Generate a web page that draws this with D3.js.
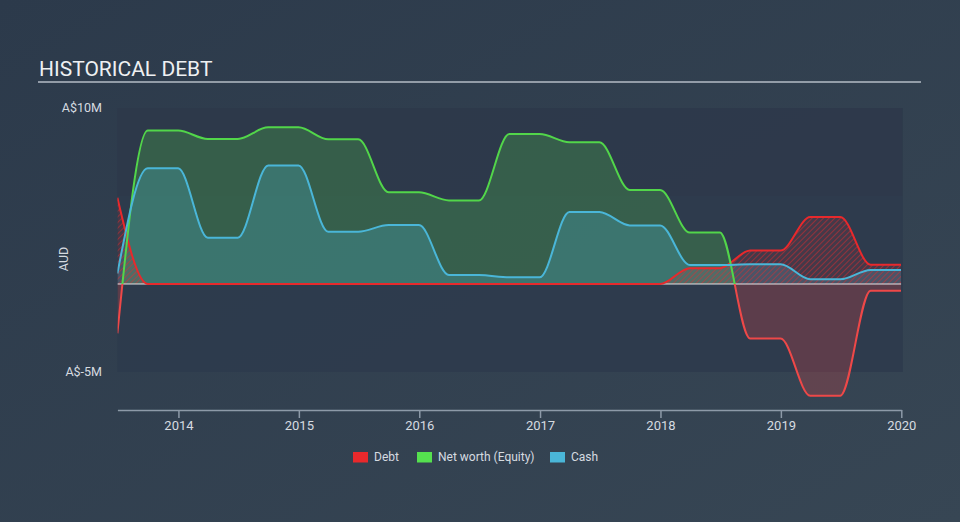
<!DOCTYPE html>
<html>
<head>
<meta charset="utf-8">
<script src="https://cdn.jsdelivr.net/npm/d3@7"></script>
<style>
html,body{margin:0;padding:0;}
body{width:960px;height:522px;overflow:hidden;background:#313f4f;font-family:Roboto,"Noto Sans",sans-serif;}
</style>
</head>
<body>
<svg id="chart" width="960" height="522"></svg>
<script>
// ---- data (A$ millions) ----
const dates = ["2013-06-30","2013-09-30","2013-12-31","2014-03-31","2014-06-30","2014-09-30","2014-12-31",
  "2015-03-31","2015-06-30","2015-09-30","2015-12-31","2016-03-31","2016-06-30","2016-09-30","2016-12-31",
  "2017-03-31","2017-06-30","2017-09-30","2017-12-31","2018-03-31","2018-06-30","2018-09-30","2018-12-31",
  "2019-03-31","2019-06-30","2019-09-30","2019-12-31"];
const debt   = [4.9,0,0,0,0,0,0,0,0,0,0,0,0,0,0,0,0,0,0,0.9,0.9,1.9,1.9,3.8,3.8,1.1,1.1];
const equity = [-2.8,8.72,8.72,8.24,8.24,8.9,8.9,8.22,8.22,5.21,5.21,4.75,4.75,8.52,8.52,8.05,8.05,5.34,5.34,2.92,2.92,-3.1,-3.1,-6.35,-6.35,-0.38,-0.38];
const cash   = [0.6,6.57,6.57,2.63,2.63,6.74,6.74,2.97,2.97,3.35,3.35,0.51,0.51,0.38,0.38,4.09,4.09,3.33,3.33,1.08,1.08,1.12,1.12,0.27,0.27,0.8,0.8];
const yTickValues = [10, -5];
const yTickLabels = ["A$10M", "A$-5M"];
const legendLabels = ["Debt", "Net worth (Equity)", "Cash"];
const title = "HISTORICAL DEBT";
const yAxisTitle = "AUD";

const parse = d3.timeParse("%Y-%m-%d");
const rows = dates.map((d,i)=>({date:parse(d), debt:debt[i], equity:equity[i], cash:cash[i]}));

const C = {debt:"#e8292c", neg:"#ee4848", equity:"#52d64a", cash:"#4ab6d8", text:"#d6dbe0"};

const svg = d3.select("#chart");
const defs = svg.append("defs");

// background gradient
const bg = defs.append("linearGradient").attr("id","bg").attr("x1","0").attr("y1","0").attr("x2","1").attr("y2","1");
bg.append("stop").attr("offset","0").attr("stop-color","#2c3a4b");
bg.append("stop").attr("offset","1").attr("stop-color","#374654");
svg.append("rect").attr("width",960).attr("height",522).attr("fill","url(#bg)");

const x = d3.scaleTime().domain([parse("2013-06-30"), parse("2020-01-01")]).range([117.4, 901.3]);
const y = d3.scaleLinear().domain([-5, 10]).range([372, 108]);
const left = x.range()[0], right = x.range()[1];

// plot bands
svg.append("rect").attr("x",left).attr("y",y(10)).attr("width",right-left+1.5).attr("height",y(5)-y(10)).attr("fill","#2d394a").attr("opacity",0.9);
svg.append("rect").attr("x",left).attr("y",y(5)).attr("width",right-left+1.5).attr("height",y(-5)-y(5)).attr("fill","#2e3b4c").attr("opacity",0.9);

// clips
defs.append("clipPath").attr("id","plot").append("rect").attr("x",left).attr("y",0).attr("width",right-left).attr("height",522);
defs.append("clipPath").attr("id","above").append("rect").attr("x",left).attr("y",0).attr("width",right-left).attr("height",y(0));
defs.append("clipPath").attr("id","below").append("rect").attr("x",left).attr("y",y(0)).attr("width",right-left).attr("height",522-y(0));

// hatch pattern
const pat = defs.append("pattern").attr("id","hatch").attr("patternUnits","userSpaceOnUse")
  .attr("width",4).attr("height",4).attr("patternTransform","rotate(45)");
pat.append("rect").attr("width",4).attr("height",4).attr("fill","rgba(232,41,44,0.12)");
pat.append("line").attr("x1",0).attr("y1",0).attr("x2",0).attr("y2",4).attr("stroke","rgba(232,41,44,0.6)").attr("stroke-width",1.6);

const g = svg.append("g").attr("clip-path","url(#plot)");
const curve = d3.curveMonotoneX;
const area = key => d3.area().x(d=>x(d.date)).y0(y(0)).y1(d=>y(d[key])).curve(curve);
const line = key => d3.line().x(d=>x(d.date)).y(d=>y(d[key])).curve(curve);

// fills
g.append("g").attr("clip-path","url(#above)").append("path").attr("d",area("equity")(rows)).attr("fill","rgba(82,214,74,0.24)");
g.append("g").attr("clip-path","url(#below)").append("path").attr("d",area("equity")(rows)).attr("fill","rgba(238,72,72,0.24)");
g.append("path").attr("d",area("cash")(rows)).attr("fill","rgba(74,182,216,0.25)");
g.append("path").attr("d",area("debt")(rows)).attr("fill","url(#hatch)");

// zero line
g.append("line").attr("x1",left).attr("x2",right).attr("y1",y(0)).attr("y2",y(0)).attr("stroke","#ffffff").attr("stroke-opacity",0.85).attr("stroke-width",1);

// lines
g.append("path").attr("d",line("debt")(rows)).attr("fill","none").attr("stroke",C.debt).attr("stroke-width",2);
g.append("g").attr("clip-path","url(#above)").append("path").attr("d",line("equity")(rows)).attr("fill","none").attr("stroke",C.equity).attr("stroke-width",2);
g.append("g").attr("clip-path","url(#below)").append("path").attr("d",line("equity")(rows)).attr("fill","none").attr("stroke",C.neg).attr("stroke-width",2);
g.append("path").attr("d",line("cash")(rows)).attr("fill","none").attr("stroke",C.cash).attr("stroke-width",2);

// title
svg.append("text").attr("x",39).attr("y",76).attr("fill","#eef0f2").attr("font-size",21).attr("font-weight",400).text(title);
svg.append("line").attr("x1",38).attr("x2",921).attr("y1",82).attr("y2",82).attr("stroke","#b4bcc6").attr("stroke-width",1.5);

// y labels
svg.selectAll("text.yt").data(yTickValues).enter().append("text").attr("class","yt")
  .attr("x",102).attr("y",d=>y(d)).attr("dy","0.35em").attr("text-anchor","end")
  .attr("fill",C.text).attr("font-size",12.5).text((d,i)=>yTickLabels[i]);
svg.append("text").attr("transform","translate(68,259) rotate(-90)").attr("text-anchor","middle")
  .attr("fill",C.text).attr("font-size",12.5).text(yAxisTitle);

// x axis
const xa = svg.append("g").attr("transform","translate(0,410)")
  .call(d3.axisBottom(x).ticks(d3.timeYear.every(1)).tickFormat(d3.timeFormat("%Y")).tickSize(8).tickSizeOuter(0).tickPadding(3));
xa.select(".domain").attr("stroke","#8d9aa8").attr("stroke-width",1.5);
xa.selectAll(".tick line").attr("stroke","#8d9aa8").attr("stroke-width",1.5);
xa.selectAll(".tick text").attr("fill",C.text).attr("font-size",13).attr("font-family","Roboto,'Noto Sans',sans-serif");

// legend
const legX = [353, 417, 550];
const legC = [C.debt, "#55e04f", C.cash];
const lg = svg.append("g");
legendLabels.forEach((t,i)=>{
  lg.append("rect").attr("x",legX[i]).attr("y",452).attr("width",15).attr("height",10.5).attr("fill",legC[i]);
  lg.append("text").attr("x",legX[i]+21).attr("y",457).attr("dy","0.35em").attr("fill",C.text).attr("font-size",12).text(t);
});
</script>
</body>
</html>
